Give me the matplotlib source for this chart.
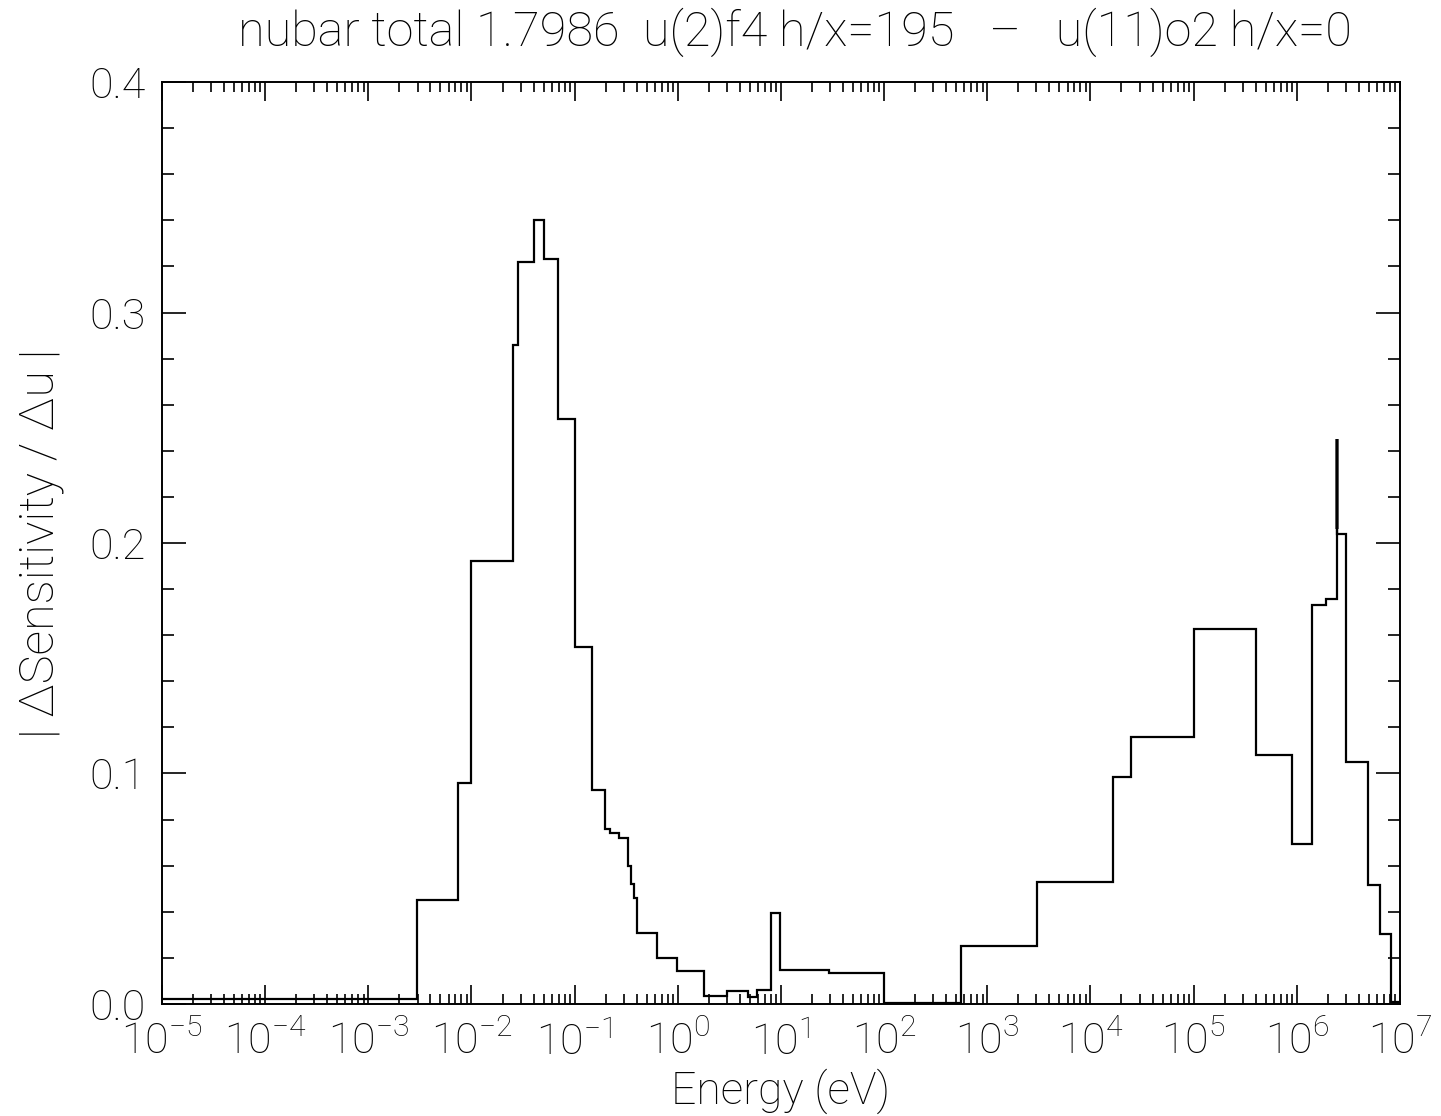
import numpy as np
import matplotlib
matplotlib.use("Agg")
import matplotlib.pyplot as plt
from matplotlib.ticker import LogLocator, MultipleLocator, FormatStrFormatter

plt.rcParams['font.family'] = ['Roboto', 'DejaVu Sans']
plt.rcParams['font.weight'] = 'light'
plt.rcParams['axes.labelweight'] = 'light'
plt.rcParams['mathtext.fontset'] = 'custom'
plt.rcParams['mathtext.rm'] = 'Roboto:light'
plt.rcParams['mathtext.default'] = 'rm'

# Energy group boundaries (eV) and |dS/du| per group
edges = [1e-5, 2.94e-3, 7.45e-3, 1.0e-2, 2.54e-2, 2.84e-2, 4.04e-2, 5.05e-2,
         6.89e-2, 1.0e-1, 1.48e-1, 1.97e-1, 2.2e-1, 2.71e-1, 3.31e-1, 3.52e-1,
         3.76e-1, 4.05e-1, 6.32e-1, 0.99, 1.79, 2.97, 4.75, 5.89, 7.94, 9.77,
         29.4, 100.0, 552.0, 3006.0, 1.663e4, 2.466e4, 1.0e5, 4.02e5, 9.04e5,
         1.41e6, 1.90e6, 2.43e6, 2.437e6, 2.444e6, 2.451e6, 2.458e6, 2.465e6,
         2.99e6, 4.86e6, 6.40e6, 8.17e6, 1e7]
values = [0.002, 0.045, 0.096, 0.192, 0.286, 0.322, 0.340, 0.323,
          0.254, 0.155, 0.093, 0.076, 0.074, 0.072, 0.060, 0.052,
          0.046, 0.031, 0.020, 0.0143, 0.0035, 0.0058, 0.003, 0.0061, 0.0396,
          0.0147, 0.0133, 0.0005, 0.0252, 0.0531, 0.0985, 0.1159, 0.1627,
          0.1079, 0.0694, 0.1733, 0.1755, 0.245, 0.206, 0.245, 0.206, 0.245,
          0.204, 0.1048, 0.0514, 0.0304, 0.001]

title = "nubar total 1.7986  u(2)f4 h/x=195   \u2013   u(11)o2 h/x=0"

fig = plt.figure(figsize=(14.41, 11.16), dpi=100)
ax = fig.add_axes([0.1124, 0.1004, 0.8591, 0.8261])

ax.stairs(values, edges, baseline=None, color='black', linewidth=1.6)

ax.set_xscale('log')
ax.set_xlim(1e-5, 1e7)
ax.set_ylim(0.0, 0.4)

ax.xaxis.set_major_locator(LogLocator(base=10, numticks=20))
ax.xaxis.set_minor_locator(LogLocator(base=10, subs=np.arange(2, 10), numticks=20))
ax.yaxis.set_major_locator(MultipleLocator(0.1))
ax.yaxis.set_minor_locator(MultipleLocator(0.02))
ax.yaxis.set_major_formatter(FormatStrFormatter('%.1f'))

ax.tick_params(which='both', direction='in', top=True, right=True,
               width=1.2, labelsize=31, colors='black')
ax.tick_params(axis='x', which='major', length=14, pad=13)
ax.tick_params(axis='x', which='minor', length=7)
ax.tick_params(axis='y', which='major', length=17, pad=12)
ax.tick_params(axis='y', which='minor', length=8.5)
for s in ax.spines.values():
    s.set_linewidth(1.4)

ax.set_xlabel("Energy (eV)", fontsize=32, labelpad=3)
ax.set_ylabel("| \u0394Sensitivity / \u0394u |", fontsize=35, labelpad=18)
fig.text(0.552, 0.971, title, fontsize=35, ha='center', va='center')

fig.savefig("out.png", dpi=100)
